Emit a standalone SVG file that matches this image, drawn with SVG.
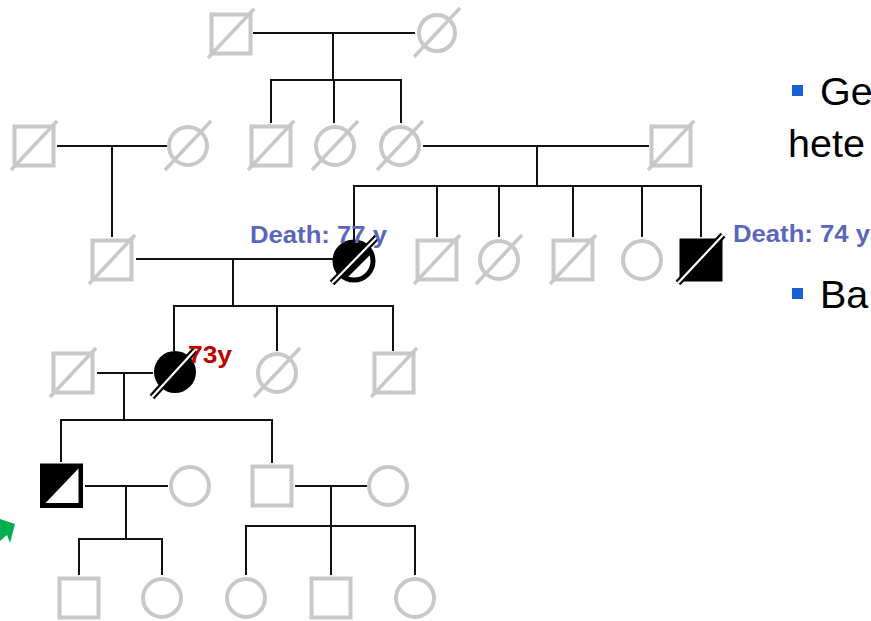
<svg xmlns="http://www.w3.org/2000/svg" xmlns:xlink="http://www.w3.org/1999/xlink" width="871" height="621" viewBox="0 0 871 621">
  <style>
    .g { fill: #ffffff; stroke: #c8c8c8; stroke-width: 4; }
    .dx { stroke: #c8c8c8; stroke-width: 3.5; fill: none; }
    .ln { stroke: #111111; stroke-width: 2; fill: none; stroke-linecap: square; }
    .blk { fill: #000000; stroke: #000000; }
    .sl-out { stroke: #000000; stroke-width: 6.5; }
    .sl-in { stroke: #ffffff; stroke-width: 2.2; }
    .age { font-family: "Liberation Sans", Arial, sans-serif; font-weight: bold; font-size: 24px; fill: #5a66be; }
    .age73 { font-family: "Liberation Sans", Arial, sans-serif; font-weight: bold; font-size: 24px; fill: #c00000; }
    .bt { font-family: "Liberation Sans", Arial, sans-serif; font-size: 39.5px; fill: #000000; }
    .bullet { fill: #1a5fd0; }
  </style>
  <defs>
    <rect id="sq" x="-19.5" y="-19.5" width="39" height="39"/>
    <circle id="ci" cx="0" cy="0" r="19"/>
    <line id="slash" x1="-23" y1="24" x2="23" y2="-25"/>
    <clipPath id="cpIII2"><circle cx="354" cy="261" r="19"/></clipPath>
  </defs>
  <rect width="871" height="621" fill="#ffffff"/>

  <!-- connectors: marriage, descent and sibship lines -->
  <g id="connectors" class="ln">
    <!-- generation I -->
    <line x1="254" y1="33" x2="414" y2="33"/>
    <line x1="333" y1="33" x2="333" y2="80"/>
    <line x1="271" y1="80" x2="401" y2="80"/>
    <line x1="271" y1="80" x2="271" y2="122"/>
    <line x1="334" y1="80" x2="334" y2="122"/>
    <line x1="401" y1="80" x2="401" y2="122"/>
    <!-- generation II -->
    <line x1="58" y1="146" x2="166" y2="146"/>
    <line x1="112" y1="146" x2="112" y2="236"/>
    <line x1="424" y1="146" x2="648" y2="146"/>
    <line x1="537" y1="146" x2="537" y2="186"/>
    <line x1="354" y1="186" x2="701" y2="186"/>
    <line x1="354" y1="186" x2="354" y2="240"/>
    <line x1="437" y1="186" x2="437" y2="236"/>
    <line x1="499" y1="186" x2="499" y2="236"/>
    <line x1="573" y1="186" x2="573" y2="236"/>
    <line x1="642" y1="186" x2="642" y2="236"/>
    <line x1="701" y1="186" x2="701" y2="236"/>
    <!-- generation III -->
    <line x1="137" y1="259" x2="333" y2="259"/>
    <line x1="233" y1="259" x2="233" y2="306"/>
    <line x1="174" y1="306" x2="393" y2="306"/>
    <line x1="174" y1="306" x2="174" y2="350"/>
    <line x1="277" y1="306" x2="277" y2="350"/>
    <line x1="393" y1="306" x2="393" y2="350"/>
    <!-- generation IV -->
    <line x1="98" y1="373" x2="152" y2="373"/>
    <line x1="124" y1="373" x2="124" y2="420"/>
    <line x1="61" y1="420" x2="272" y2="420"/>
    <line x1="61" y1="420" x2="61" y2="461"/>
    <line x1="272" y1="420" x2="272" y2="462"/>
    <!-- generation V -->
    <line x1="86" y1="486" x2="167" y2="486"/>
    <line x1="126" y1="486" x2="126" y2="539"/>
    <line x1="79" y1="539" x2="162" y2="539"/>
    <line x1="79" y1="539" x2="79" y2="574"/>
    <line x1="162" y1="539" x2="162" y2="574"/>
    <line x1="296" y1="486" x2="366" y2="486"/>
    <line x1="331" y1="486" x2="331" y2="574"/>
    <line x1="246" y1="526" x2="415" y2="526"/>
    <line x1="246" y1="526" x2="246" y2="574"/>
    <line x1="415" y1="526" x2="415" y2="574"/>
  </g>

  <!-- generation I -->
  <g id="I1" transform="translate(231,34)"><use xlink:href="#sq" class="g"/><use xlink:href="#slash" class="dx"/></g>
  <g id="I2" transform="translate(437,33)"><circle r="18" class="g"/><use xlink:href="#slash" class="dx"/></g>

  <!-- generation II -->
  <g id="II1" transform="translate(34,146)"><use xlink:href="#sq" class="g"/><use xlink:href="#slash" class="dx"/></g>
  <g id="II2" transform="translate(188,146)"><use xlink:href="#ci" class="g"/><use xlink:href="#slash" class="dx"/></g>
  <g id="II3" transform="translate(271,146)"><use xlink:href="#sq" class="g"/><use xlink:href="#slash" class="dx"/></g>
  <g id="II4" transform="translate(335,146)"><use xlink:href="#ci" class="g"/><use xlink:href="#slash" class="dx"/></g>
  <g id="II5" transform="translate(400,146)"><use xlink:href="#ci" class="g"/><use xlink:href="#slash" class="dx"/></g>
  <g id="II6" transform="translate(671,146)"><use xlink:href="#sq" class="g"/><use xlink:href="#slash" class="dx"/></g>

  <!-- generation III -->
  <g id="III1" transform="translate(112,260)"><use xlink:href="#sq" class="g"/><use xlink:href="#slash" class="dx"/></g>
  <g id="III2">
    <circle cx="354" cy="261" r="19" fill="#ffffff" stroke="#000000" stroke-width="5"/>
    <polygon points="320,227 398,227 320,305" fill="#000000" clip-path="url(#cpIII2)"/>
    <line x1="332" y1="283" x2="377" y2="237" class="sl-out"/>
    <line x1="332" y1="283" x2="377" y2="237" class="sl-in"/>
  </g>
  <g id="III3" transform="translate(437,260)"><use xlink:href="#sq" class="g"/><use xlink:href="#slash" class="dx"/></g>
  <g id="III4" transform="translate(499,260)"><use xlink:href="#ci" class="g"/><use xlink:href="#slash" class="dx"/></g>
  <g id="III5" transform="translate(573,260)"><use xlink:href="#sq" class="g"/><use xlink:href="#slash" class="dx"/></g>
  <g id="III6" transform="translate(642,260)"><use xlink:href="#ci" class="g"/></g>
  <g id="III7" transform="translate(701,260)">
    <use xlink:href="#sq" class="blk" stroke-width="4"/>
    <line x1="-23" y1="23" x2="22" y2="-25" class="sl-out"/>
    <line x1="-23" y1="23" x2="22" y2="-25" class="sl-in"/>
  </g>

  <!-- generation IV -->
  <g id="IV1" transform="translate(73,373)"><use xlink:href="#sq" class="g"/><use xlink:href="#slash" class="dx"/></g>
  <g id="IV2" transform="translate(175,372)">
    <circle r="21" fill="#000000"/>
    <line x1="-23" y1="25" x2="20" y2="-22" class="sl-out"/>
    <line x1="-23" y1="25" x2="20" y2="-22" class="sl-in"/>
  </g>
  <g id="IV3" transform="translate(277,373)"><use xlink:href="#ci" class="g"/><use xlink:href="#slash" class="dx"/></g>
  <g id="IV4" transform="translate(394,373)"><use xlink:href="#sq" class="g"/><use xlink:href="#slash" class="dx"/></g>

  <!-- generation V -->
  <g id="V1">
    <rect x="42.5" y="466" width="38" height="39.5" fill="#000000" stroke="#000000" stroke-width="5"/>
    <polygon points="45.5,503 78.5,468.5 78.5,503" fill="#ffffff"/>
  </g>
  <g id="V2" transform="translate(190,486)"><use xlink:href="#ci" class="g"/></g>
  <g id="V3" transform="translate(272,486)"><use xlink:href="#sq" class="g"/></g>
  <g id="V4" transform="translate(388,486)"><use xlink:href="#ci" class="g"/></g>

  <!-- generation VI -->
  <g id="VI1" transform="translate(79,598)"><use xlink:href="#sq" class="g"/></g>
  <g id="VI2" transform="translate(162,598)"><use xlink:href="#ci" class="g"/></g>
  <g id="VI3" transform="translate(246,598)"><use xlink:href="#ci" class="g"/></g>
  <g id="VI4" transform="translate(331,598)"><use xlink:href="#sq" class="g"/></g>
  <g id="VI5" transform="translate(415,598)"><use xlink:href="#ci" class="g"/></g>

  <!-- proband pointer -->
  <polygon id="proband-arrow" points="0,519 15,524 10,543 7,535 0,541" fill="#00b050"/>

  <!-- age labels -->
  <text x="250" y="243" class="age" textLength="137" lengthAdjust="spacingAndGlyphs">Death: 77 y</text>
  <text x="733" y="242" class="age" textLength="137" lengthAdjust="spacingAndGlyphs">Death: 74 y</text>
  <text x="188" y="363" class="age73" textLength="44" lengthAdjust="spacingAndGlyphs">73y</text>

  <!-- side notes -->
  <rect x="792" y="85" width="11" height="11" class="bullet"/>
  <text x="820" y="105" class="bt">Ge</text>
  <text x="788" y="157" class="bt">hete</text>
  <rect x="792" y="288" width="11" height="11" class="bullet"/>
  <text x="820" y="308" class="bt">Ba</text>
</svg>
